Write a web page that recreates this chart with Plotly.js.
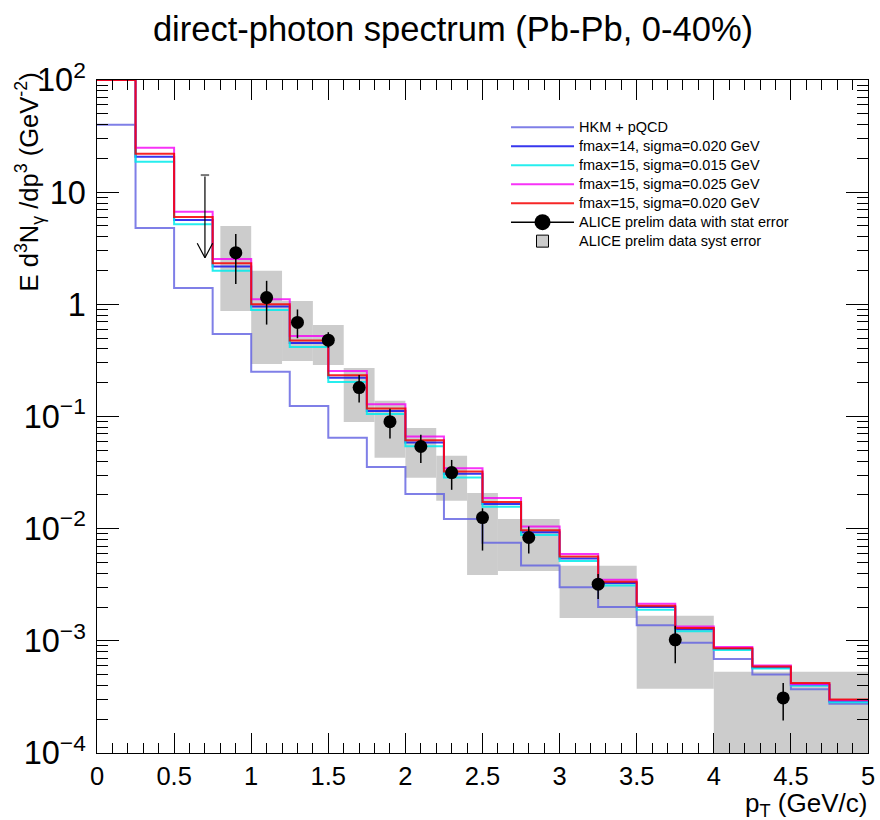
<!DOCTYPE html>
<html>
<head>
<meta charset="utf-8">
<script src="https://cdn.plot.ly/plotly-3.0.1.min.js"></script>
<style>html,body{margin:0;padding:0;background:#fff;}#chart{width:880px;height:820px;}</style>
</head>
<body>
<div id="chart"></div>
<script>
// ---- data ----
const binEdges = [0,0.25,0.5,0.75,1.0,1.25,1.5,1.75,2.0,2.25,2.5,2.75,3.0,3.25,3.5,3.75,4.0,4.25,4.5,4.75,5.0];
const hkmPQCD  = [40,4.8,1.4,0.545,0.25,0.124,0.0645,0.0355,0.0204,0.0122,0.0075,0.0047,0.0030,0.0020,0.00138,0.00096,0.00069,0.0005,0.00037,0.000275];
const fmax14s020 = [100,20.7,5.65,2.17,0.955,0.453,0.221,0.112,0.0586,0.0308,0.0166,0.0093,0.00542,0.00327,0.0020,0.00127,0.000844,0.000578,0.000403,0.00029];
const fmax15s015 = [100,18.7,5.17,1.99,0.89,0.417,0.203,0.1055,0.0544,0.0286,0.0157,0.0088,0.00516,0.00311,0.00189,0.00122,0.00083,0.000566,0.000397,0.000284];
const fmax15s025 = [100,24.9,6.7,2.54,1.11,0.523,0.255,0.1285,0.0662,0.0346,0.0188,0.01045,0.00596,0.0035,0.00214,0.00134,0.00088,0.000603,0.00041,0.000296];
const fmax15s020 = [100,22.0,6.0,2.32,1.0,0.475,0.233,0.1177,0.0615,0.0323,0.0173,0.0097,0.00565,0.00336,0.00205,0.0013,0.00086,0.00059,0.00042,0.0003];

const dataPt   = [0.9,1.1,1.3,1.5,1.7,1.9,2.1,2.3,2.5,2.8,3.25,3.75,4.45];
const dataVal  = [2.89,1.15,0.69,0.479,0.181,0.090,0.054,0.0316,0.01256,0.00834,0.0032,0.00102,0.00031];
const statHi   = [4.24,1.62,0.90,0.564,0.235,0.117,0.0686,0.041,0.0152,0.01045,0.00395,0.00136,0.00042];
const statLo   = [1.52,0.66,0.499,0.41,0.133,0.0635,0.0384,0.0222,0.00638,0.0060,0.00236,0.00063,0.000195];

const systPt   = [0.9,1.1,1.3,1.5,1.7,1.9,2.1,2.3,2.5,2.8,3.25,3.75,4.5];
const systBinW = [0.2,0.2,0.2,0.2,0.2,0.2,0.2,0.2,0.2,0.4,0.5,0.5,1.0];
const systHi   = [5.0,1.99,1.07,0.655,0.271,0.138,0.079,0.0446,0.0208,0.0122,0.00466,0.00167,0.00053];
const systLo   = [0.873,0.294,0.313,0.288,0.0895,0.0428,0.0284,0.0177,0.00387,0.0042,0.0016,0.000373,0.00005];

const limitPt  = 0.7;
const limitTop = 14.2;
const limitTip = 2.6;

const legendNames = ['HKM + pQCD','fmax=14, sigma=0.020 GeV','fmax=15, sigma=0.015 GeV','fmax=15, sigma=0.025 GeV','fmax=15, sigma=0.020 GeV','ALICE prelim data with stat error','ALICE prelim data syst error'];

// ---- build ----
const FONT = 'Liberation Sans, Arial, sans-serif';
const lg = s => '<span style="font-size:14.5px">' + s + '</span>';

function histTrace(vals, name, color, rank) {
  return {
    type: 'scatter', mode: 'lines', name: lg(name), legendrank: rank,
    x: binEdges, y: vals.concat([vals[vals.length-1]]),
    line: {shape: 'hv', color: color, width: 2},
    hoverinfo: 'skip'
  };
}

const traces = [
  {
    type: 'bar', x: systPt, width: systBinW, base: systLo,
    y: systHi.map((h,i) => h - systLo[i]),
    marker: {color: '#cccccc', line: {width: 0}},
    showlegend: false, hoverinfo: 'skip'
  },
  histTrace(hkmPQCD, legendNames[0], 'rgba(95,95,225,0.8)', 1),
  histTrace(fmax14s020, legendNames[1], 'rgba(20,20,235,0.85)', 2),
  histTrace(fmax15s015, legendNames[2], 'rgba(0,235,235,0.85)', 3),
  histTrace(fmax15s025, legendNames[3], 'rgba(245,0,245,0.8)', 4),
  histTrace(fmax15s020, legendNames[4], 'rgba(245,0,0,0.85)', 5),
  {
    type: 'scatter', mode: 'markers', x: dataPt, y: dataVal, showlegend: false,
    marker: {symbol: 'circle', size: 13, color: '#000'},
    error_y: {type: 'data', symmetric: false,
      array: statHi.map((h,i) => h - dataVal[i]),
      arrayminus: dataVal.map((v,i) => v - statLo[i]),
      width: 0, thickness: 1.5, color: '#000'},
    hoverinfo: 'skip'
  },
  {
    type: 'scatter', mode: 'markers', x: [limitPt], y: [limitTop], showlegend: false,
    marker: {symbol: 'line-ew', size: 6, line: {width: 2, color: '#777'}},
    hoverinfo: 'skip'
  },
  // legend-only entries
  {
    type: 'scatter', mode: 'lines+markers', x: [null], y: [null], name: lg(legendNames[5]), legendrank: 6,
    marker: {symbol: 'circle', size: 16, color: '#000'}, line: {color: '#000', width: 1.5}
  },
  {
    type: 'bar', x: [null], y: [null], name: lg(legendNames[6]), legendrank: 7,
    marker: {color: '#cccccc', line: {color: '#000', width: 1}}
  }
];

// upper-limit arrow: stem from limitTop to limitTip, plus two thin wings (pixel offsets)
const arrowStem = {
  xref: 'x', yref: 'y', axref: 'x', ayref: 'y',
  x: limitPt, y: Math.log10(limitTip), ax: limitPt, ay: Math.log10(limitTop),
  showarrow: true, arrowhead: 0, arrowwidth: 1.2, arrowcolor: '#000',
  standoff: 0, startstandoff: 0, text: ''
};
const wing = dx => ({
  xref: 'x', yref: 'y', x: limitPt, y: Math.log10(limitTip),
  ax: dx, ay: -16, showarrow: true, arrowhead: 0, arrowwidth: 1.2, arrowcolor: '#000',
  standoff: 0, startstandoff: 0, text: ''
});

const layout = {
  width: 880, height: 820,
  paper_bgcolor: '#fff', plot_bgcolor: '#fff',
  margin: {l: 97, r: 12, t: 80, b: 67},
  font: {family: FONT, color: '#000'},
  barmode: 'overlay',
  showlegend: true,
  title: {
    text: 'direct-photon spectrum (Pb-Pb, 0-40%)',
    font: {family: FONT, size: 34.5, color: '#000'},
    xref: 'paper', x: 0.4617, xanchor: 'center',
    yref: 'container', y: 0.965, yanchor: 'middle'
  },
  legend: {
    x: 0.5305, y: 0.9515, xanchor: 'left', yanchor: 'top',
    bgcolor: 'rgba(255,255,255,0)', borderwidth: 0,
    font: {family: FONT, size: 11.5, color: '#000'},
    traceorder: 'normal', itemwidth: 63, tracegroupgap: 0
  },
  xaxis: {
    range: [0, 5], dtick: 0.5, tick0: 0,
    ticks: 'inside', ticklen: 20, tickwidth: 1, tickcolor: '#000',
    showline: true, linecolor: '#000', linewidth: 1, mirror: 'allticks',
    showgrid: false, zeroline: false,
    tickfont: {family: FONT, size: 25.5, color: '#000'},
    minor: {dtick: 0.1, ticks: 'inside', ticklen: 10, tickwidth: 1, tickcolor: '#000', showgrid: false}
  },
  yaxis: {
    type: 'log', range: [-4, 2], dtick: 1, exponentformat: 'power',
    ticks: 'inside', ticklen: 22, tickwidth: 1, tickcolor: '#000',
    showline: true, linecolor: '#000', linewidth: 1, mirror: 'allticks',
    showgrid: false, zeroline: false, ticklabelstandoff: 5,
    tickfont: {family: FONT, size: 26, color: '#000'},
    minor: {dtick: 'D1', ticks: 'inside', ticklen: 11, tickwidth: 1, tickcolor: '#000', showgrid: false}
  },
  annotations: [
    arrowStem, wing(-8.5), wing(8.5),
    {
      xref: 'paper', yref: 'paper', x: -0.087, y: 1.0149, xanchor: 'center', yanchor: 'top',
      textangle: -90, showarrow: false,
      text: 'E d<sup>3</sup>N<sub>γ</sub> /dp<sup>3</sup> (GeV<sup>-2</sup>)',
      font: {family: FONT, size: 25.5, color: '#000'}
    },
    {
      xref: 'paper', yref: 'paper', x: 1.0, y: -0.0505, xanchor: 'right', yanchor: 'top',
      showarrow: false, borderpad: 0,
      text: 'p<sub>T</sub> (GeV/c)',
      font: {family: FONT, size: 26, color: '#000'}
    }
  ]
};

Plotly.newPlot('chart', traces, layout, {displayModeBar: false, staticPlot: true});
</script>
</body>
</html>
